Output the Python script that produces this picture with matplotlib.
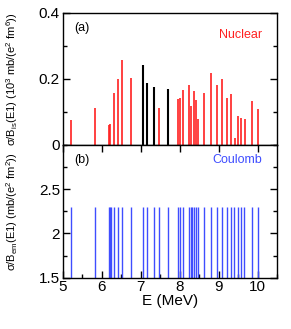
import matplotlib
matplotlib.use('Agg')
import matplotlib.pyplot as plt
from matplotlib.ticker import MultipleLocator

plt.rcParams['font.family'] = ['Liberation Sans', 'DejaVu Sans']
plt.rcParams['mathtext.fontset'] = 'custom'
plt.rcParams['mathtext.rm'] = 'Liberation Sans'
plt.rcParams['mathtext.it'] = 'Liberation Sans:italic'

# panel (a) nuclear, red states
e_red = [5.20, 5.83, 6.18, 6.22, 6.31, 6.42, 6.53, 6.76, 7.47,
         7.95, 8.02, 8.08, 8.25, 8.30, 8.36, 8.43, 8.48, 8.62, 8.80,
         8.96, 9.08, 9.22, 9.31, 9.41, 9.50, 9.58, 9.67, 9.85, 10.01]
v_red = [0.076, 0.113, 0.061, 0.063, 0.156, 0.199, 0.256, 0.203, 0.112,
         0.139, 0.141, 0.167, 0.180, 0.118, 0.164, 0.136, 0.080, 0.157, 0.217,
         0.181, 0.199, 0.141, 0.155, 0.021, 0.087, 0.083, 0.079, 0.133, 0.108]
# panel (a) black states
e_blk = [7.05, 7.16, 7.33, 7.71]
v_blk = [0.242, 0.186, 0.175, 0.169]
# panel (b) coulomb
e_cou = [5.20, 5.83, 6.18, 6.20, 6.23, 6.32, 6.43, 6.53, 6.76, 7.06, 7.16,
         7.33, 7.47, 7.71, 7.95, 8.01, 8.08, 8.25, 8.28, 8.32, 8.37, 8.43,
         8.48, 8.62, 8.80, 8.96, 9.08, 9.22, 9.31, 9.40, 9.50, 9.58, 9.66,
         9.85, 10.01]
v_cou = [2.3, 2.3, 2.3, 2.3, 2.3, 2.3, 2.3, 2.3, 2.3, 2.3, 2.3,
         2.3, 2.3, 2.3, 2.3, 2.3, 2.3, 2.3, 2.3, 2.3, 2.3, 2.3,
         2.3, 2.3, 2.3, 2.3, 2.3, 2.3, 2.3, 2.3, 2.3, 2.3, 2.3,
         2.3, 2.3]

red = '#ff2020'
blue = '#3f4dff'

fig = plt.figure(figsize=(2.91, 3.29), dpi=100)
ax1 = fig.add_axes([0.2155, 0.5593, 0.737, 0.4021])
ax2 = fig.add_axes([0.2155, 0.156, 0.737, 0.4033])

ax1.vlines(e_red, 0, v_red, color=red, linewidth=1.2)
ax1.vlines(e_blk, 0, v_blk, color='black', linewidth=1.5)
ax2.vlines(e_cou, 1.5, v_cou, color=blue, linewidth=1.0)

for ax in (ax1, ax2):
    ax.set_xlim(5, 10.5)
    ax.xaxis.set_major_locator(MultipleLocator(1))
    ax.xaxis.set_minor_locator(MultipleLocator(0.5))
    for s in ax.spines.values():
        s.set_linewidth(1.0)
    ax.tick_params(which='both', direction='in', right=True, width=1.0,
                   labelsize=11, pad=2)
    ax.tick_params(which='major', length=5)
    ax.tick_params(which='minor', length=3)

ax1.set_ylim(0, 0.4)
ax1.yaxis.set_minor_locator(MultipleLocator(0.1))
ax1.set_yticks([0, 0.2, 0.4])
ax1.set_yticklabels(['0', '0.2', '0.4'])
ax1.tick_params(axis='x', which='both', bottom=False, labelbottom=False)

ax2.set_ylim(1.5, 3.0)
ax2.yaxis.set_minor_locator(MultipleLocator(0.25))
ax2.set_yticks([1.5, 2.0, 2.5])
ax2.set_yticklabels(['1.5', '2', '2.5'])
ax2.tick_params(axis='x', which='minor', top=False)
ax2.tick_params(axis='x', which='major', top=True)
ax2.set_xticks([5, 6, 7, 8, 9, 10])
ax2.set_xticklabels(['5', '6', '7', '8', '9', '10'])
ax2.set_xlabel('E (MeV)', fontsize=11, labelpad=0)

ax1.set_ylabel(r'σ/B$_{\rm is}$(E1) (10$^3$ mb/(e$^2$ fm$^6$))', fontsize=8)
ax2.set_ylabel(r'σ/B$_{\rm em}$(E1) (mb/(e$^2$ fm$^2$))', fontsize=8)
ax1.yaxis.set_label_coords(-0.2, 0.5)
ax2.yaxis.set_label_coords(-0.2, 0.5)

ax1.text(0.055, 0.93, '(a)', transform=ax1.transAxes, fontsize=9, va='top')
ax1.text(0.93, 0.88, 'Nuclear', transform=ax1.transAxes, fontsize=9,
         color=red, ha='right', va='top')
ax2.text(0.055, 0.93, '(b)', transform=ax2.transAxes, fontsize=9, va='top')
ax2.text(0.93, 0.93, 'Coulomb', transform=ax2.transAxes, fontsize=9,
         color=blue, ha='right', va='top')

plt.savefig('out.png', dpi=100)
